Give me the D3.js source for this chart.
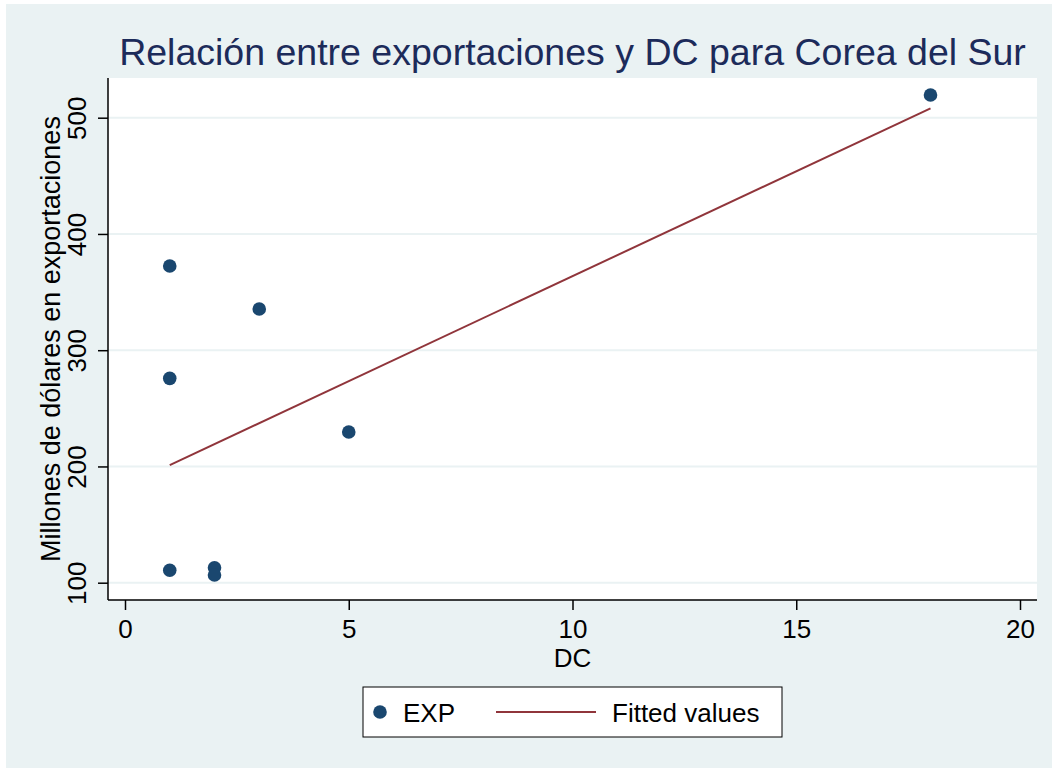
<!DOCTYPE html>
<html>
<head>
<meta charset="utf-8">
<script src="https://cdn.jsdelivr.net/npm/d3@7"></script>
<style>
  body { margin: 0; background: #ffffff; }
  text { font-family: "Liberation Sans", Arial, Helvetica, sans-serif; }
</style>
</head>
<body>
<div id="chart"></div>
<script>
// ---------------------- data ----------------------
var dcValues  = [1, 1, 1, 2, 2, 3, 5, 18];
var expValues = [372.4, 275.8, 110.7, 112.9, 106.6, 335.4, 229.6, 519.5];
var fittedDC  = [1, 18];
var fittedExp = [201.2, 508.1];
var xTicks = [0, 5, 10, 15, 20];
var yTicks = [100, 200, 300, 400, 500];
var titleText  = "Relación entre exportaciones y DC para Corea del Sur";
var xLabelText = "DC";
var yLabelText = "Millones de dólares en exportaciones";
var legendLabels = ["EXP", "Fitted values"];

// ---------------------- drawing ----------------------
var width = 1052, height = 768;
var plotLeft = 108, plotRight = 1037, plotTop = 78, plotBottom = 600;
var navy = "#1a476f", maroon = "#90353b", region = "#eaf2f3";

var svg = d3.select("#chart")
     .append("svg")
     .attr("width", width)
     .attr("height", height);

// graph region
svg.append("rect")
     .attr("x", 6).attr("y", 4)
     .attr("width", width - 6).attr("height", height - 4)
     .attr("fill", region);

// plot region
svg.append("rect")
     .attr("x", plotLeft).attr("y", plotTop)
     .attr("width", plotRight - plotLeft).attr("height", plotBottom - plotTop)
     .attr("fill", "#ffffff");

var x = d3.scaleLinear().domain([0, 20]).range([125, 1020]);
var y = d3.scaleLinear().domain([100, 500]).range([582.7, 117.7]);

// gridlines
svg.append("g").selectAll("line")
     .data(yTicks)
     .enter()
     .append("line")
     .attr("x1", plotLeft).attr("x2", plotRight)
     .attr("y1", function(d) { return y(d); })
     .attr("y2", function(d) { return y(d); })
     .attr("stroke", region)
     .attr("stroke-width", 2);

// y axis
var yAxis = svg.append("g")
     .attr("transform", "translate(" + plotLeft + ",0)")
     .call(d3.axisLeft(y).tickValues(yTicks).tickSize(10).tickFormat(d3.format("d")));
yAxis.select(".domain").remove();
yAxis.selectAll(".tick line").attr("stroke", "#000").attr("stroke-width", 1.5);
yAxis.selectAll(".tick text")
     .attr("x", null).attr("dy", null)
     .attr("transform", "translate(-22,0) rotate(-90)")
     .attr("text-anchor", "middle")
     .style("font-size", "26px")
     .attr("fill", "#000");
svg.append("line")
     .attr("x1", plotLeft).attr("x2", plotLeft)
     .attr("y1", plotTop).attr("y2", plotBottom)
     .attr("stroke", "#000").attr("stroke-width", 1.5);

// x axis
var xAxis = svg.append("g")
     .attr("transform", "translate(0," + plotBottom + ")")
     .call(d3.axisBottom(x).tickValues(xTicks).tickSize(10).tickFormat(d3.format("d")));
xAxis.select(".domain").remove();
xAxis.selectAll(".tick line").attr("stroke", "#000").attr("stroke-width", 1.5);
xAxis.selectAll(".tick text")
     .attr("y", 38).attr("dy", null)
     .style("font-size", "26px")
     .attr("fill", "#000");
svg.append("line")
     .attr("x1", plotLeft).attr("x2", plotRight)
     .attr("y1", plotBottom).attr("y2", plotBottom)
     .attr("stroke", "#000").attr("stroke-width", 1.5);

// fitted line
svg.append("path")
     .datum(d3.zip(fittedDC, fittedExp))
     .attr("d", d3.line().x(function(d) { return x(d[0]); }).y(function(d) { return y(d[1]); }))
     .attr("fill", "none")
     .attr("stroke", maroon)
     .attr("stroke-width", 2);

// points
svg.append("g").selectAll("circle")
     .data(d3.zip(dcValues, expValues))
     .enter()
     .append("circle")
     .attr("cx", function(d) { return x(d[0]); })
     .attr("cy", function(d) { return y(d[1]); })
     .attr("r", 6.8)
     .attr("fill", navy);

// title
svg.append("text")
     .text(titleText)
     .attr("x", (plotLeft + plotRight) / 2)
     .attr("y", 65)
     .attr("text-anchor", "middle")
     .style("font-size", "37.5px")
     .attr("fill", "#1c2b5a");

// axis titles
svg.append("text")
     .text(xLabelText)
     .attr("x", (plotLeft + plotRight) / 2)
     .attr("y", 667)
     .attr("text-anchor", "middle")
     .style("font-size", "26px")
     .attr("fill", "#000");

svg.append("text")
     .text(yLabelText)
     .attr("transform", "translate(60," + ((plotTop + plotBottom) / 2) + ") rotate(-90)")
     .attr("text-anchor", "middle")
     .style("font-size", "27px")
     .attr("fill", "#000");

// legend
var legend = svg.append("g");
legend.append("rect")
     .attr("x", 363).attr("y", 687)
     .attr("width", 419).attr("height", 50)
     .attr("fill", "#ffffff")
     .attr("stroke", "#000")
     .attr("stroke-width", 1);
legend.append("circle")
     .attr("cx", 380).attr("cy", 712)
     .attr("r", 6.8)
     .attr("fill", navy);
legend.append("line")
     .attr("x1", 496).attr("x2", 596)
     .attr("y1", 712).attr("y2", 712)
     .attr("stroke", maroon)
     .attr("stroke-width", 2);
legend.selectAll("text.lab")
     .data(legendLabels)
     .enter()
     .append("text")
     .attr("class", "lab")
     .text(function(d) { return d; })
     .attr("x", function(d, i) { return i === 0 ? 403 : 612; })
     .attr("y", 722)
     .style("font-size", "26px")
     .attr("fill", "#000");
</script>
</body>
</html>
